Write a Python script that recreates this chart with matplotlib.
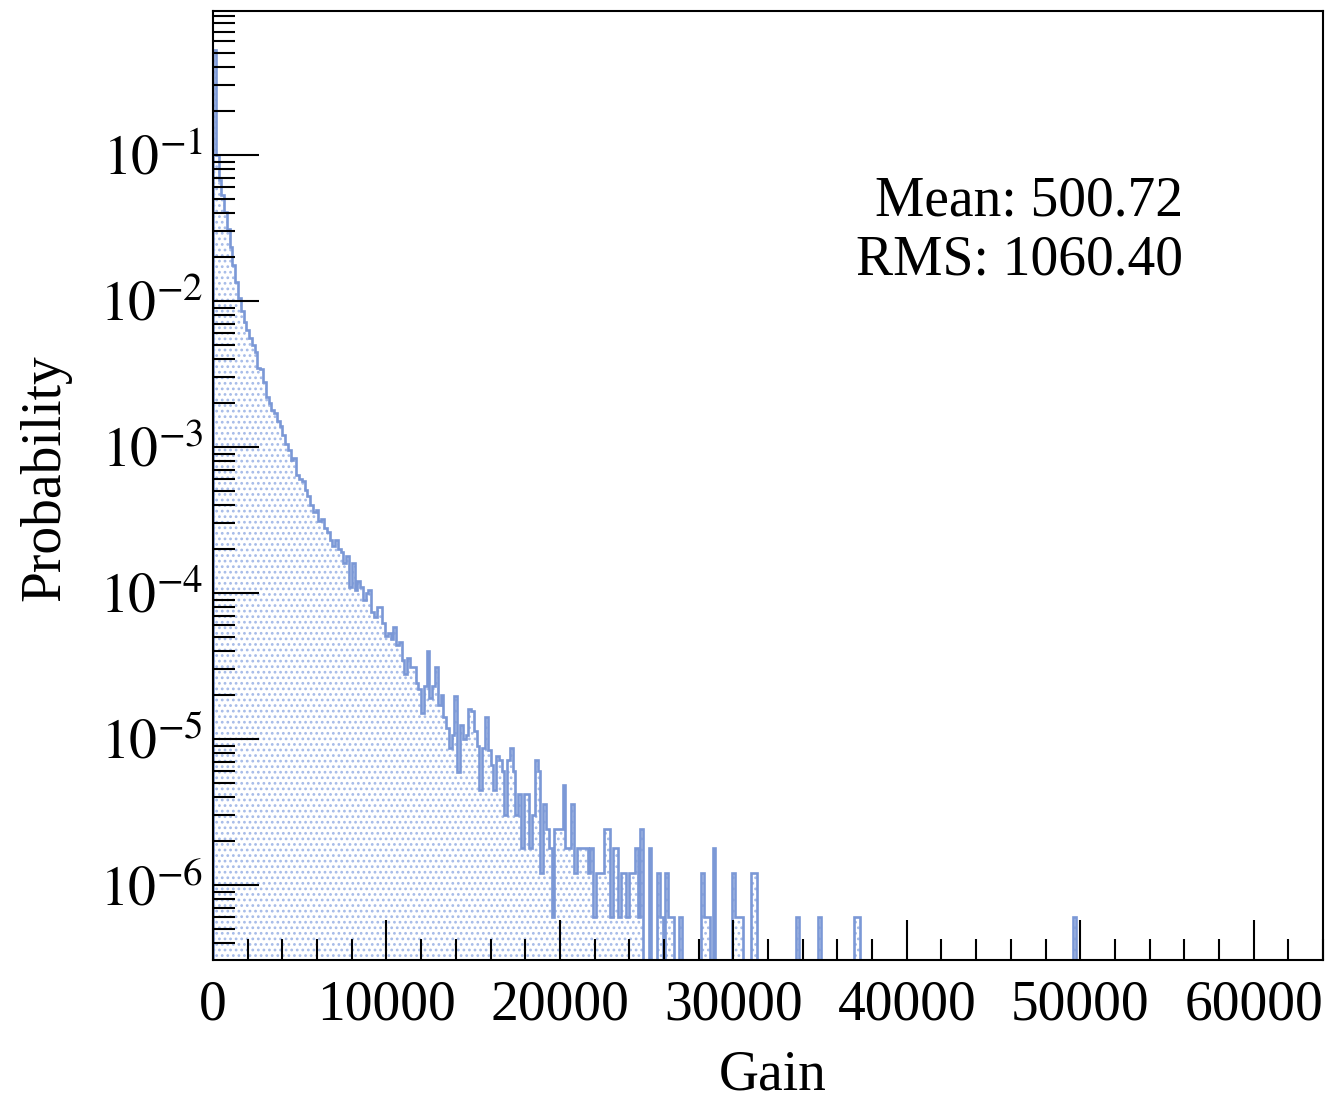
import numpy as np
import matplotlib
matplotlib.use("Agg")
import matplotlib.pyplot as plt
from matplotlib.ticker import FixedLocator, FuncFormatter, LogLocator, NullFormatter

plt.rcParams["font.family"] = ["Liberation Serif", "DejaVu Serif"]
plt.rcParams["mathtext.fontset"] = "stix"
plt.rcParams["hatch.linewidth"] = 1.2

# histogram: 400 bins of width 160 over 0..64000
N_BINS = 400
GAIN_MAX = 64000

# probability per bin, bins 0..131
head_prob = [
    0.52, 0.10, 0.067, 0.053, 0.041, 0.031, 0.0235, 0.0176, 0.0135, 0.0105,
    0.0086, 0.0072, 0.0063, 0.0056, 0.0050, 0.0045, 0.0035, 0.0034, 0.0028, 0.0022,
    0.0020, 0.0018, 0.0017, 0.0015, 0.0014, 0.0012, 0.00105, 0.00095, 0.00082, 0.00084,
    6.4e-4, 6.0e-4, 5.8e-4, 5.1e-4, 4.6e-4, 4.0e-4, 3.6e-4, 3.7e-4, 3.1e-4, 3.2e-4,
    2.8e-4, 2.6e-4, 2.3e-4, 2.1e-4, 2.3e-4, 2.0e-4, 1.9e-4, 1.6e-4, 1.8e-4, 1.1e-4,
    1.6e-4, 1.05e-4, 1.2e-4, 1.1e-4, 9.0e-5, 1.0e-4, 1.05e-4, 7.4e-5, 6.8e-5, 8.0e-5,
    8.0e-5, 6.2e-5, 5.1e-5, 5.3e-5, 4.8e-5, 5.8e-5, 4.4e-5, 4.6e-5, 3.5e-5, 2.8e-5,
    3.6e-5, 3.1e-5, 3.1e-5, 2.4e-5, 2.2e-5, 1.5e-5, 2.3e-5, 4.0e-5, 1.9e-5, 2.3e-5,
    3.1e-5, 1.7e-5, 2.0e-5, 1.41e-5, 1.19e-5, 8.7e-6, 1.06e-5, 1.98e-5, 5.9e-6, 1.25e-5,
    1.0e-5, 1.06e-5, 1.6e-5, 1.55e-5, 1.14e-5, 9.0e-6, 4.5e-6, 8.7e-6, 1.41e-5, 8.4e-6,
    6.6e-6, 4.5e-6, 7.7e-6, 7.2e-6, 6.0e-6, 3.0e-6, 7.2e-6, 8.7e-6, 6.0e-6, 3.0e-6,
    4.2e-6, 1.8e-6, 4.2e-6, 4.2e-6, 1.8e-6, 3.0e-6, 7.2e-6, 6.0e-6, 1.2e-6, 3.6e-6,
    2.4e-6, 1.8e-6, 6.0e-7, 2.4e-6, 2.4e-6, 2.4e-6, 4.8e-6, 1.8e-6, 1.8e-6, 3.6e-6,
    1.2e-6, 1.8e-6,
]

# sparse tail: lower bin edge (gain) and probability of the non-empty bins
tail_gain = [
    21120, 21280, 21440, 21600, 21760, 21920, 22080, 22240, 22400, 22560,
    22720, 22880, 23040, 23200, 23360, 23520, 23680, 23840, 24000, 24160,
    24320, 24480, 24640, 25120, 25600, 25760, 26080, 26240, 26400, 26880,
    28160, 28320, 28480, 28800, 29920, 30080, 30240, 30400, 31040, 31200,
    33600, 34880, 36960, 37120, 49600,
]
tail_prob = [
    1.8e-6, 1.8e-6, 1.8e-6, 1.2e-6, 1.8e-6, 6.0e-7, 1.2e-6, 1.2e-6, 1.2e-6, 2.4e-6,
    2.4e-6, 6.0e-7, 1.8e-6, 1.8e-6, 6.0e-7, 1.2e-6, 1.2e-6, 6.0e-7, 1.2e-6, 1.2e-6,
    1.8e-6, 6.0e-7, 2.4e-6, 1.8e-6, 1.2e-6, 6.0e-7, 1.2e-6, 6.0e-7, 6.0e-7, 6.0e-7,
    1.2e-6, 6.0e-7, 6.0e-7, 1.8e-6, 1.2e-6, 6.0e-7, 6.0e-7, 6.0e-7, 1.2e-6, 1.2e-6,
    6.0e-7, 6.0e-7, 6.0e-7, 6.0e-7, 6.0e-7,
]

stats_text = ["Mean: 500.72", "RMS: 1060.40"]

Y_MIN, Y_MAX = 3.06e-7, 0.969
LINE_COLOR = "#7b98d6"
DOT_COLOR = "#a6bbe8"

edges = np.linspace(0, GAIN_MAX, N_BINS + 1)
width = edges[1] - edges[0]
prob = np.zeros(N_BINS)
prob[:len(head_prob)] = head_prob
for g, p in zip(tail_gain, tail_prob):
    prob[int(round(g / width))] = p

fig = plt.figure(figsize=(13.28, 11.01), dpi=100)
ax = fig.add_axes([213 / 1328, 1 - 960 / 1101, 1110 / 1328, 949 / 1101])

# dotted fill, then outline
ax.stairs(prob, edges, baseline=1e-12, fill=True, facecolor="none",
          edgecolor=DOT_COLOR, hatch="...", linewidth=0)
ax.stairs(prob, edges, baseline=1e-12, color=LINE_COLOR, linewidth=1.9)

ax.set_yscale("log")
ax.set_xlim(0, GAIN_MAX)
ax.set_ylim(Y_MIN, Y_MAX)

ax.xaxis.set_major_locator(FixedLocator(np.arange(0, 60001, 10000)))
ax.xaxis.set_minor_locator(FixedLocator(np.arange(0, 64001, 2000)))
ax.xaxis.set_major_formatter(FuncFormatter(lambda v, _: "%d" % v))
ax.yaxis.set_major_locator(LogLocator(base=10, numticks=20))
ax.yaxis.set_minor_locator(LogLocator(base=10, subs=np.arange(2, 10), numticks=20))
ax.yaxis.set_minor_formatter(NullFormatter())
ax.yaxis.set_major_formatter(FuncFormatter(lambda v, _: r"$10^{%d}$" % round(np.log10(v))))

ax.tick_params(which="both", direction="in", top=False, right=False, width=1.5,
               labelsize=40, colors="black")
ax.tick_params(axis="y", which="major", length=33, pad=7)
ax.tick_params(axis="y", which="minor", length=16)
ax.tick_params(axis="x", which="major", length=29, pad=14)
ax.tick_params(axis="x", which="minor", length=15)
for sp in ax.spines.values():
    sp.set_linewidth(1.5)

ax.text(0.874, 0.785, stats_text[0], transform=ax.transAxes, ha="right",
        va="baseline", fontsize=40)
ax.text(0.874, 0.722, stats_text[1], transform=ax.transAxes, ha="right",
        va="baseline", fontsize=40)

fig.text(773 / 1328, 1 - 1090 / 1101, "Gain", ha="center", va="baseline", fontsize=40)
fig.text(45 / 1328, 1 - 478 / 1101, "Probability", ha="center", va="center",
         rotation=90, fontsize=40)

fig.savefig("out.png", dpi=100)
